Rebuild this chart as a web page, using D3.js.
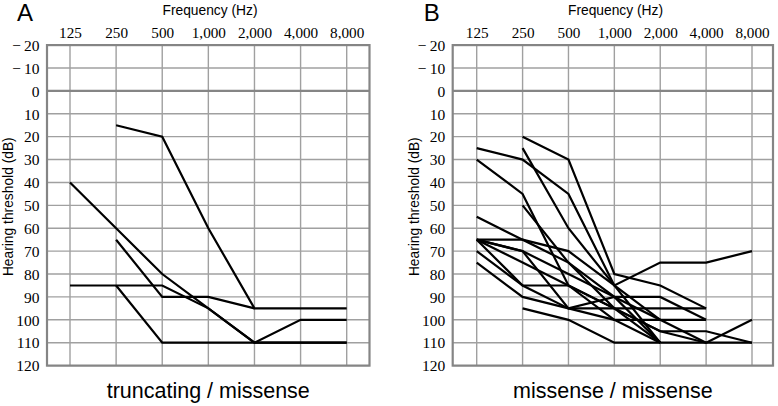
<!DOCTYPE html>
<html><head><meta charset="utf-8">
<script src="https://cdn.jsdelivr.net/npm/d3@7"></script>
<style>body{margin:0;background:#fff}svg{display:block}</style>
</head><body>
<svg id="c" width="778" height="406"></svg>
<script>
// ---- data ----
const freqs = [125, 250, 500, 1000, 2000, 4000, 8000];
const freqLabels = ["125", "250", "500", "1,000", "2,000", "4,000", "8,000"];
const dbTicks = [-20, -10, 0, 10, 20, 30, 40, 50, 60, 70, 80, 90, 100, 110, 120];
const panelLetters = ["A", "B"];
const panelTitles = ["truncating / missense", "missense / missense"];
// thresholds per frequency (null = not measured)
const seriesA = [
  [null, 15, 20, 60, 95, 95, 95],
  [40, 60, 80, 95, 110, 100, 100],
  [null, 65, 90, 90, 95, null, null],
  [85, 85, 85, 95, 110, 110, 110],
  [null, 85, 110, 110, 110, 110, 110]
];
const seriesB = [
  [25, 30, 45, 85, 110, null, null],
  [null, 20, 30, 80, 85, 95, null],
  [null, 25, 60, 85, 75, 75, 70],
  [30, 45, 85, 95, 110, null, null],
  [null, 50, 75, 95, 105, 105, 110],
  [55, 65, 70, 85, 100, 110, 100],
  [65, 65, 75, 90, 110, null, null],
  [65, 70, 80, 90, 90, 100, null],
  [65, 75, 85, 95, 95, 95, null],
  [65, 85, 95, 90, 100, 100, null],
  [70, 85, 85, 100, 100, null, null],
  [75, 90, 95, 100, 110, null, null],
  [null, 95, 100, 110, 110, 110, 110],
  [65, 70, 95, 95, 105, 110, null]
];
const panelSeries = [seriesA, seriesB];

// ---- layout ----
const panels = [
  {left: 47, right: 369.5, c0: 70, c6: 346.7, dx: 0},
  {left: 452.7, right: 773, c0: 476.7, c6: 752, dx: 405.5}
];
const plotTop = 45.1, plotBottom = 365.6;
const svg = d3.select("#c");
const sans = "'Liberation Sans', Arial, Helvetica, sans-serif";
const serif = "'Liberation Serif', 'Times New Roman', serif";

panels.forEach((p, i) => {
  const x = d3.scaleLog().base(2).domain([125, 8000]).range([p.c0, p.c6]);
  const y = d3.scaleLinear().domain([-20, 120]).range([plotTop, plotBottom]);
  const g = svg.append("g");

  // grid
  g.selectAll(".vg").data(freqs).join("line")
    .attr("x1", d => x(d)).attr("x2", d => x(d))
    .attr("y1", plotTop).attr("y2", plotBottom)
    .attr("stroke", "#a0a0a0").attr("stroke-width", 1.4);
  g.selectAll(".hg").data(dbTicks).join("line")
    .attr("x1", p.left).attr("x2", p.right)
    .attr("y1", d => y(d)).attr("y2", d => y(d))
    .attr("stroke", d => d === 0 ? "#858585" : "#a0a0a0")
    .attr("stroke-width", d => d === 0 ? 2.4 : 1.4);
  g.append("rect")
    .attr("x", p.left).attr("y", plotTop)
    .attr("width", p.right - p.left).attr("height", plotBottom - plotTop)
    .attr("fill", "none").attr("stroke", "#858585").attr("stroke-width", 2.2);

  // top axis labels
  const xAxis = d3.axisTop(x).tickValues(freqs)
    .tickFormat((d, k) => freqLabels[k]).tickSize(0).tickPadding(0);
  const xa = g.append("g").attr("transform", `translate(0,${37.5})`).call(xAxis);
  xa.select(".domain").remove();
  xa.selectAll("text").attr("font-family", serif).attr("font-size", 15.2)
    .attr("fill", "#000").attr("dy", 0);

  // left axis labels
  const yAxis = d3.axisLeft(y).tickValues(dbTicks)
    .tickFormat(d => d < 0 ? "\u2212\u2009" + Math.abs(d) : String(d)).tickSize(0).tickPadding(0);
  const ya = g.append("g").attr("transform", `translate(${p.left - 7.5},0)`).call(yAxis);
  ya.select(".domain").remove();
  ya.selectAll("text").attr("font-family", serif).attr("font-size", 15.5)
    .attr("fill", "#000").attr("dy", "0.34em");

  // titles
  g.append("text").attr("x", 17 + p.dx * 1.003).attr("y", 21)
    .attr("font-family", sans).attr("font-size", 24).text(panelLetters[i]);
  g.append("text").attr("x", 210 + p.dx).attr("y", 14.5)
    .attr("text-anchor", "middle").attr("font-family", sans).attr("font-size", 13.8)
    .text("Frequency (Hz)");
  g.append("text")
    .attr("transform", `translate(${13.2 + p.dx},${206.7}) rotate(-90)`)
    .attr("text-anchor", "middle").attr("font-family", sans).attr("font-size", 13.8)
    .text("Hearing threshold (dB)");
  g.append("text").attr("x", (p.left + p.right) / 2).attr("y", 397.5)
    .attr("text-anchor", "middle").attr("font-family", sans).attr("font-size", 21.5)
    .text(panelTitles[i]);

  // data lines
  const line = d3.line()
    .defined(d => d.v !== null)
    .x(d => x(d.f)).y(d => y(d.v));
  g.selectAll(".s").data(panelSeries[i]).join("path")
    .attr("d", s => line(s.map((v, k) => ({f: freqs[k], v}))))
    .attr("fill", "none").attr("stroke", "#000").attr("stroke-width", 2.2)
    .attr("stroke-linejoin", "miter");
});
</script>
</body></html>
